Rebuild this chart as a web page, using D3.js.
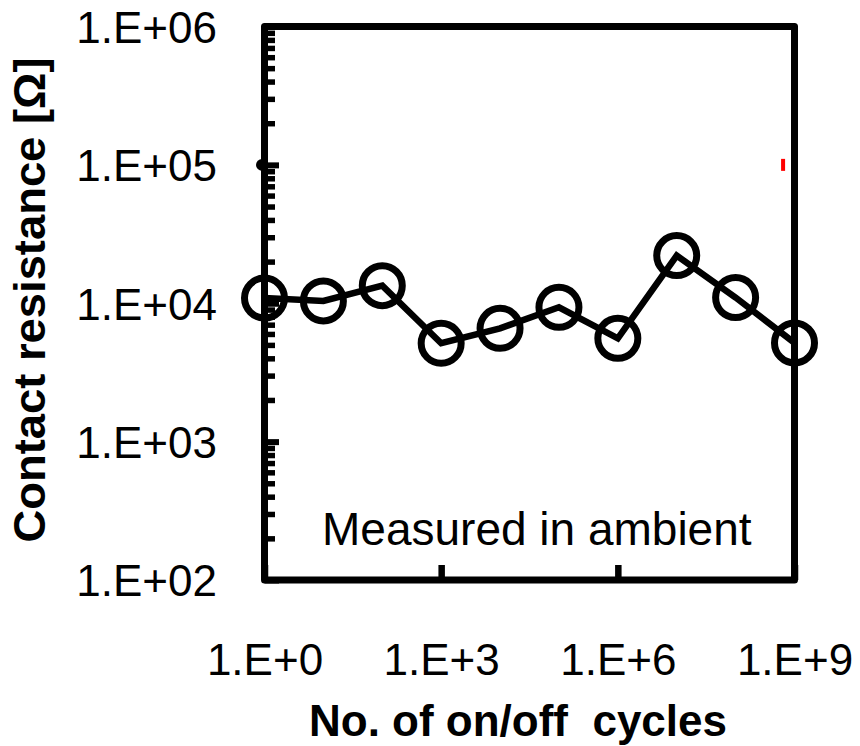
<!DOCTYPE html>
<html>
<head>
<meta charset="utf-8">
<script src="https://cdn.jsdelivr.net/npm/d3@7"></script>
<style>
  html, body { margin: 0; padding: 0; background: #fff; }
  svg { display: block; }
</style>
</head>
<body>
<svg id="chart" width="860" height="746"></svg>
<script>
// Contact resistance vs. number of on/off cycles (log-log)
const cycles     = [1e0, 1e1, 1e2, 1e3, 1e4, 1e5, 1e6, 1e7, 1e8, 1e9];
const resistance = [10900, 10400, 13400, 5140, 6590, 9350, 5580, 22100, 11000, 5170];

const xTickValues = [1e0, 1e3, 1e6, 1e9];
const xTickLabels = ["1.E+0", "1.E+3", "1.E+6", "1.E+9"];
const yTickValues = [1e2, 1e3, 1e4, 1e5, 1e6];
const yTickLabels = ["1.E+02", "1.E+03", "1.E+04", "1.E+05", "1.E+06"];

// stray marks on the plot: a black dot on the y axis and a short red bar
const extraDots = [{ x: 1e0, y: 1e5 }];
const extraBars = [{ x: 6.4e8, y: 1e5 }];

const xTitle = "No. of on/off  cycles";
const yTitle = "Contact resistance [\u03A9]";
const note   = "Measured in ambient";

const svg = d3.select("#chart");
const plotLeft = 264.5, plotRight = 794.5, plotTop = 26.5, plotBottom = 580;

const x = d3.scaleLog().domain([1e0, 1e9]).range([plotLeft, plotRight]);
const y = d3.scaleLog().domain([1e2, 1e6]).range([plotBottom, plotTop]);

const font = "Arial, 'Liberation Sans', Helvetica, sans-serif";

// minor ticks on the y axis (2..9 within each decade)
const minorY = [];
for (let d = 2; d < 6; d++) for (let k = 2; k <= 9; k++) minorY.push(k * Math.pow(10, d));

const gMinor = svg.append("g")
  .attr("transform", `translate(${plotLeft},0)`)
  .call(d3.axisLeft(y).tickValues(minorY).tickSize(-10.5).tickFormat(""));
gMinor.select(".domain").remove();
gMinor.selectAll(".tick line").attr("stroke", "#000").attr("stroke-width", 5.5);

// major y ticks with labels
const gY = svg.append("g")
  .attr("transform", `translate(${plotLeft},0)`)
  .call(d3.axisLeft(y).tickValues(yTickValues).tickSize(-14.5).tickPadding(47.5)
    .tickFormat((d, i) => yTickLabels[i]));
gY.select(".domain").remove();
gY.selectAll(".tick line").attr("stroke", "#000").attr("stroke-width", 6);
gY.selectAll(".tick text")
  .attr("fill", "#000")
  .attr("dy", "0.36em")
  .style("font-family", font)
  .style("font-size", "44px");

// x ticks with labels
const gX = svg.append("g")
  .attr("transform", `translate(0,${plotBottom})`)
  .call(d3.axisBottom(x).tickValues(xTickValues).tickSize(-15).tickPadding(64)
    .tickFormat((d, i) => xTickLabels[i]));
gX.select(".domain").remove();
gX.selectAll(".tick line").attr("stroke", "#000").attr("stroke-width", 6.5);
gX.selectAll(".tick text")
  .attr("fill", "#000")
  .attr("dy", "0.71em")
  .style("font-family", font)
  .style("font-size", "44px");

// plot frame
svg.append("rect")
  .attr("x", plotLeft).attr("y", plotTop)
  .attr("width", plotRight - plotLeft).attr("height", plotBottom - plotTop)
  .attr("fill", "none")
  .attr("stroke", "#000")
  .attr("stroke-width", 7)
  .attr("stroke-linejoin", "round");

// stray marks
svg.selectAll("circle.extra").data(extraDots).join("circle")
  .attr("class", "extra")
  .attr("cx", d => x(d.x) - 2.5).attr("cy", d => y(d.y))
  .attr("r", 6).attr("fill", "#000");
svg.selectAll("rect.extra").data(extraBars).join("rect")
  .attr("class", "extra")
  .attr("x", d => x(d.x) - 2).attr("y", d => y(d.y) - 6)
  .attr("width", 4).attr("height", 12).attr("fill", "#ff0000");

// series line
const data = cycles.map((c, i) => ({ c, r: resistance[i] }));
svg.append("path")
  .datum(data)
  .attr("fill", "none")
  .attr("stroke", "#000")
  .attr("stroke-width", 6.5)
  .attr("stroke-linejoin", "miter")
  .attr("d", d3.line().x(d => x(d.c)).y(d => y(d.r)));

// open circle markers
svg.selectAll("circle.pt").data(data).join("circle")
  .attr("class", "pt")
  .attr("cx", d => x(d.c)).attr("cy", d => y(d.r))
  .attr("r", 20)
  .attr("fill", "none")
  .attr("stroke", "#000")
  .attr("stroke-width", 7);

// annotation inside the plot
svg.append("text")
  .attr("x", 322).attr("y", 545)
  .attr("fill", "#000")
  .style("font-family", font)
  .style("font-size", "46px")
  .text(note);

// axis titles
svg.append("text")
  .attr("x", 309).attr("y", 736)
  .attr("fill", "#000")
  .attr("textLength", 418)
  .attr("lengthAdjust", "spacingAndGlyphs")
  .style("font-family", font)
  .style("font-weight", "bold")
  .style("font-size", "44px")
  .style("white-space", "pre")
  .text(xTitle);

svg.append("text")
  .attr("transform", "translate(45,300) rotate(-90)")
  .attr("text-anchor", "middle")
  .attr("fill", "#000")
  .attr("textLength", 485)
  .attr("lengthAdjust", "spacingAndGlyphs")
  .style("font-family", font)
  .style("font-weight", "bold")
  .style("font-size", "45px")
  .text(yTitle);
</script>
</body>
</html>
